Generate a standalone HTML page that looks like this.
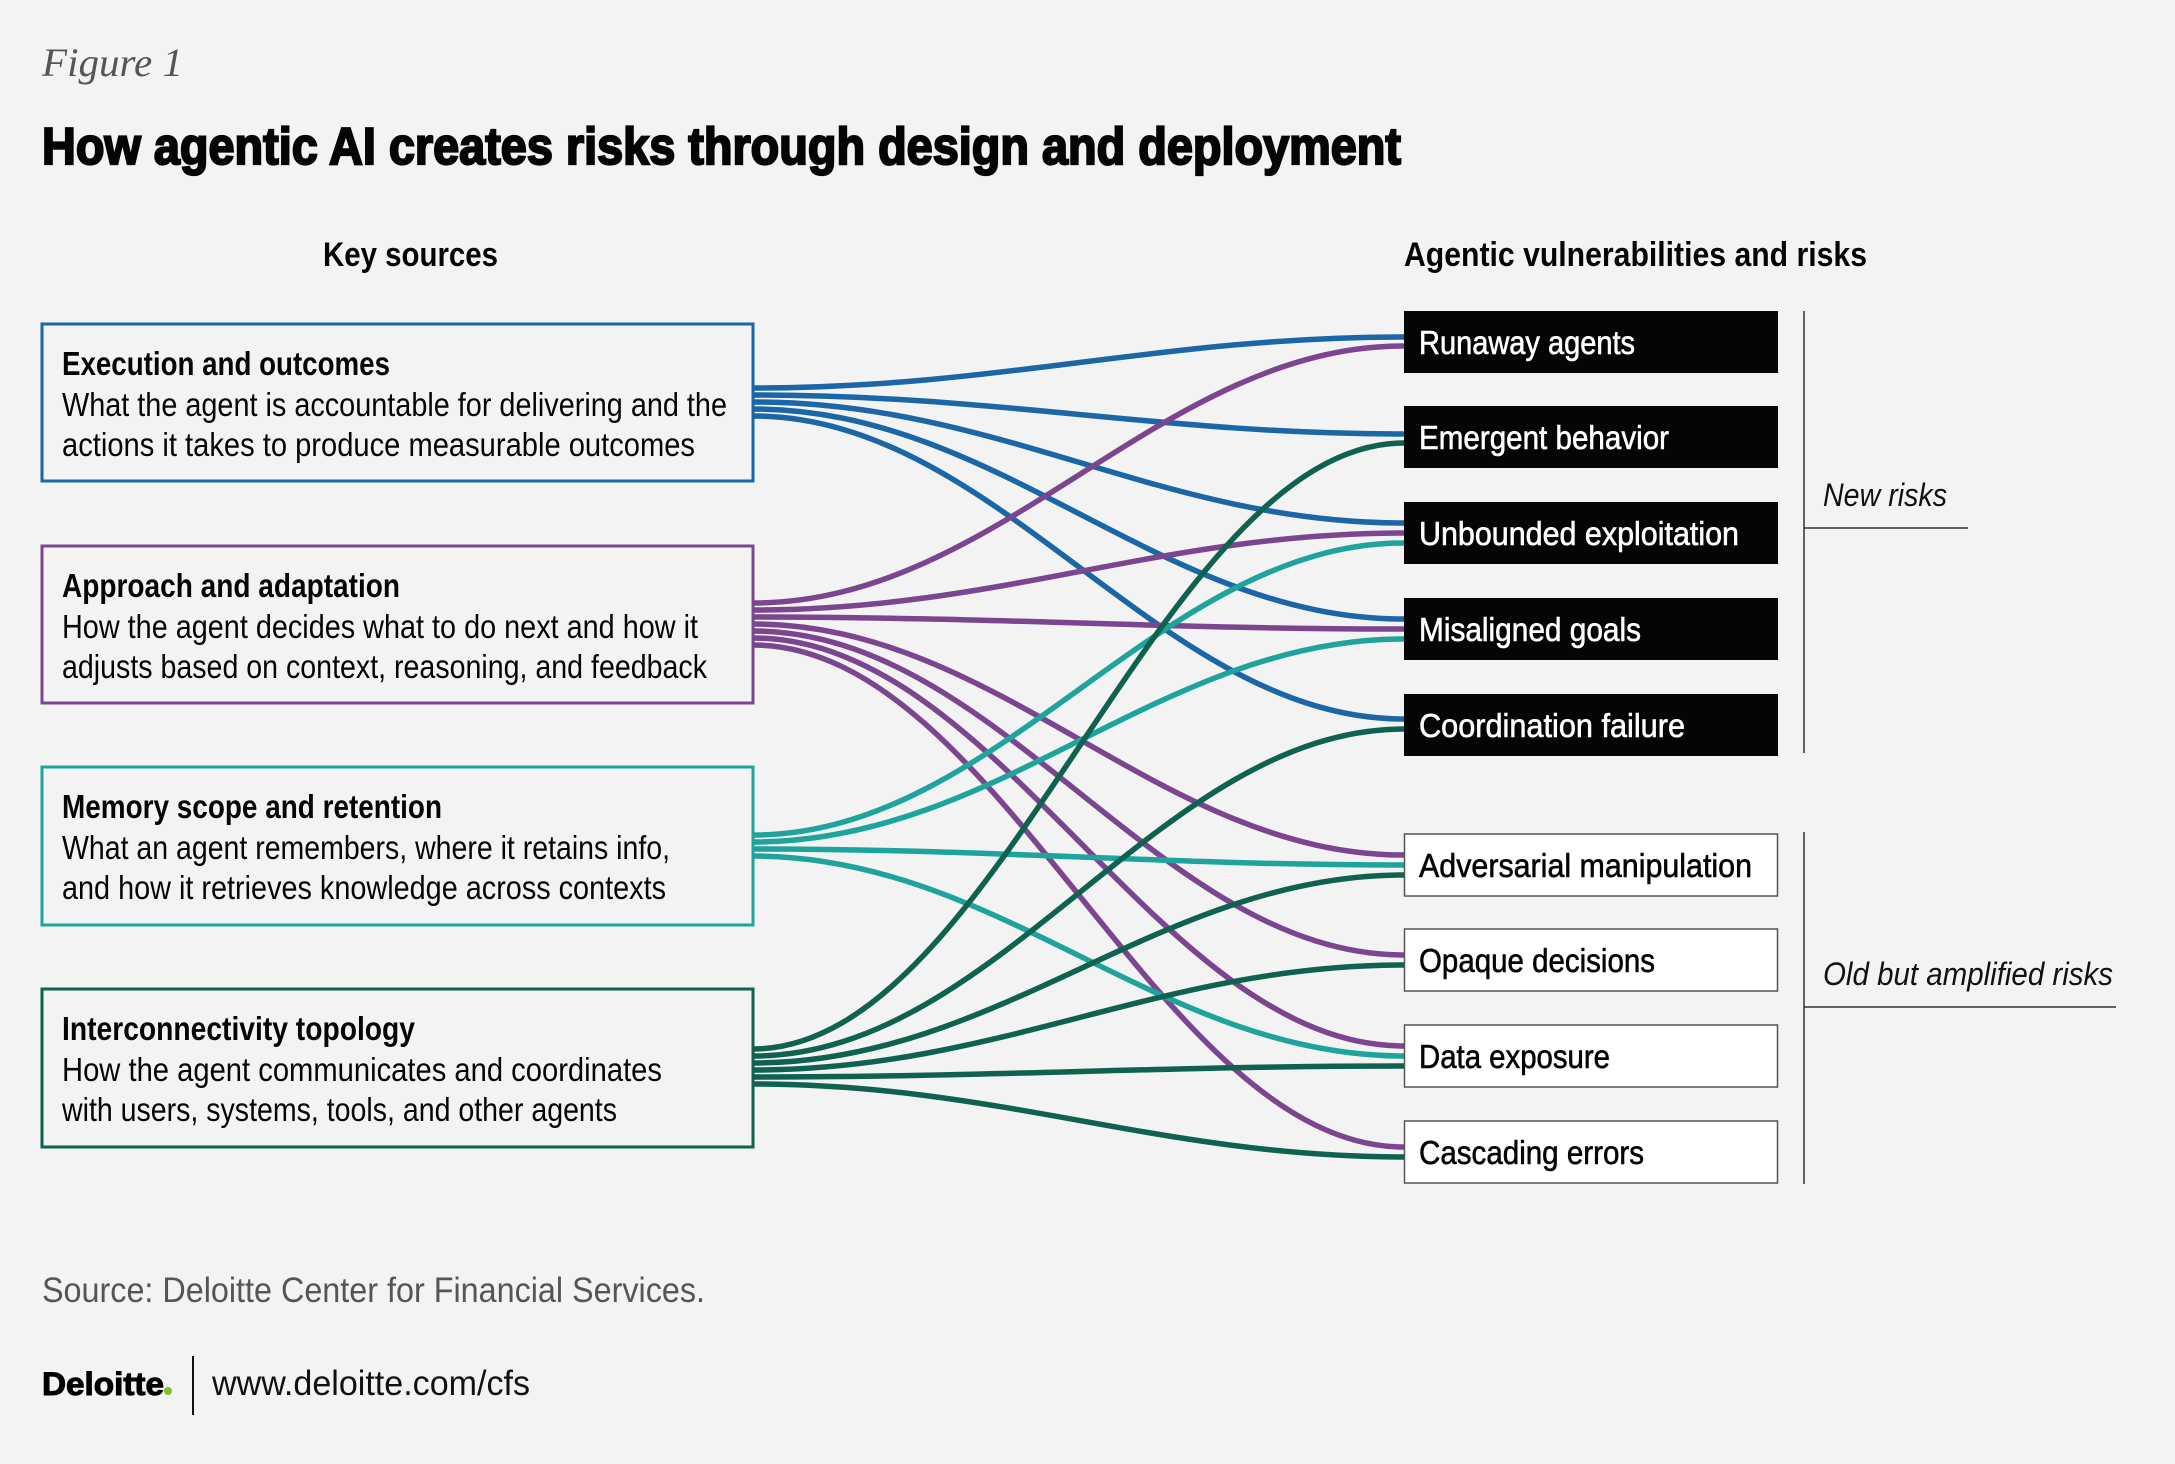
<!DOCTYPE html>
<html><head><meta charset="utf-8"><style>
html,body{margin:0;padding:0;background:#f3f3f3;}
svg{display:block;}
</style></head><body>
<svg width="2175" height="1464" viewBox="0 0 2175 1464" xmlns="http://www.w3.org/2000/svg" font-family="Liberation Sans, sans-serif">
<rect width="2175" height="1464" fill="#f3f3f3"/>
<text x="42" y="76" style="font-family:'Liberation Serif',serif;font-style:italic" font-size="40" fill="#555" textLength="141" lengthAdjust="spacingAndGlyphs">Figure 1</text>
<text x="42" y="164" font-size="52" font-weight="bold" fill="#050505" stroke="#050505" stroke-width="2.2" textLength="1359" lengthAdjust="spacingAndGlyphs">How agentic AI creates risks through design and deployment</text>
<text x="323" y="266" font-size="34" font-weight="bold" fill="#050505" textLength="175" lengthAdjust="spacingAndGlyphs">Key sources</text>
<text x="1404" y="266" font-size="34" font-weight="bold" fill="#050505" textLength="463" lengthAdjust="spacingAndGlyphs">Agentic vulnerabilities and risks</text>

<g fill="none" stroke-width="5.5">
<g stroke="#1a66a6">
<path d="M753 388 C1000 388,1160 337,1404 337"/>
<path d="M753 395 C1000 395,1160 434,1404 434"/>
<path d="M753 402 C1000 402,1160 523,1404 523"/>
<path d="M753 409 C1000 409,1160 619,1404 619"/>
<path d="M753 416 C1000 416,1160 719,1404 719"/>
</g>
<g stroke="#7c4590">
<path d="M753 603 C1000 603,1160 346,1404 346"/>
<path d="M753 610 C1000 610,1160 533,1404 533"/>
<path d="M753 617 C1000 617,1160 629,1404 629"/>
<path d="M753 624 C1000 624,1160 855,1404 855"/>
<path d="M753 631 C1000 631,1160 955,1404 955"/>
<path d="M753 638 C1000 638,1160 1046,1404 1046"/>
<path d="M753 645 C1000 645,1160 1147,1404 1147"/>
</g>
<g stroke="#1fa39d">
<path d="M753 835 C1000 835,1160 543,1404 543"/>
<path d="M753 842 C1000 842,1160 639,1404 639"/>
<path d="M753 849 C1000 849,1160 865,1404 865"/>
<path d="M753 856 C1000 856,1160 1056,1404 1056"/>
</g>
<g stroke="#0f6250">
<path d="M753 1049 C1000 1049,1160 443,1404 443"/>
<path d="M753 1056 C1000 1056,1160 729,1404 729"/>
<path d="M753 1063 C1000 1063,1160 875,1404 875"/>
<path d="M753 1070 C1000 1070,1160 965,1404 965"/>
<path d="M753 1077 C1000 1077,1160 1066,1404 1066"/>
<path d="M753 1084 C1000 1084,1160 1157,1404 1157"/>
</g>
</g>

<g stroke-width="3" fill="#f3f3f3">
<rect x="42" y="324" width="711" height="157" stroke="#1a66a6"/>
<rect x="42" y="546" width="711" height="157" stroke="#7c4590"/>
<rect x="42" y="767" width="711" height="158" stroke="#1fa39d"/>
<rect x="42" y="989" width="711" height="158" stroke="#0f6250"/>
</g>
<g fill="#050505" font-size="33">
<text x="62" y="375" font-weight="bold" textLength="328" lengthAdjust="spacingAndGlyphs">Execution and outcomes</text>
<text x="62" y="416" textLength="665" lengthAdjust="spacingAndGlyphs">What the agent is accountable for delivering and the</text>
<text x="62" y="456" textLength="633" lengthAdjust="spacingAndGlyphs">actions it takes to produce measurable outcomes</text>
<text x="62" y="597" font-weight="bold" textLength="338" lengthAdjust="spacingAndGlyphs">Approach and adaptation</text>
<text x="62" y="638" textLength="636" lengthAdjust="spacingAndGlyphs">How the agent decides what to do next and how it</text>
<text x="62" y="678" textLength="645" lengthAdjust="spacingAndGlyphs">adjusts based on context, reasoning, and feedback</text>
<text x="62" y="818" font-weight="bold" textLength="380" lengthAdjust="spacingAndGlyphs">Memory scope and retention</text>
<text x="62" y="859" textLength="608" lengthAdjust="spacingAndGlyphs">What an agent remembers, where it retains info,</text>
<text x="62" y="899" textLength="604" lengthAdjust="spacingAndGlyphs">and how it retrieves knowledge across contexts</text>
<text x="62" y="1040" font-weight="bold" textLength="353" lengthAdjust="spacingAndGlyphs">Interconnectivity topology</text>
<text x="62" y="1081" textLength="600" lengthAdjust="spacingAndGlyphs">How the agent communicates and coordinates</text>
<text x="62" y="1121" textLength="555" lengthAdjust="spacingAndGlyphs">with users, systems, tools, and other agents</text>
</g>

<g fill="#040606">
<rect x="1404" y="311" width="374" height="62"/>
<rect x="1404" y="406" width="374" height="62"/>
<rect x="1404" y="502" width="374" height="62"/>
<rect x="1404" y="598" width="374" height="62"/>
<rect x="1404" y="694" width="374" height="62"/>
</g>
<g fill="#fff" stroke="#555" stroke-width="1.5">
<rect x="1404.5" y="834" width="373" height="62"/>
<rect x="1404.5" y="929" width="373" height="62"/>
<rect x="1404.5" y="1025" width="373" height="62"/>
<rect x="1404.5" y="1121" width="373" height="62"/>
</g>
<g font-size="33" fill="#fff" stroke="#fff" stroke-width="0.6">
<text x="1419" y="354" textLength="216" lengthAdjust="spacingAndGlyphs">Runaway agents</text>
<text x="1419" y="449" textLength="250" lengthAdjust="spacingAndGlyphs">Emergent behavior</text>
<text x="1419" y="545" textLength="320" lengthAdjust="spacingAndGlyphs">Unbounded exploitation</text>
<text x="1419" y="641" textLength="222" lengthAdjust="spacingAndGlyphs">Misaligned goals</text>
<text x="1419" y="737" textLength="266" lengthAdjust="spacingAndGlyphs">Coordination failure</text>
</g>
<g font-size="33" fill="#050505" stroke="#050505" stroke-width="0.6">
<text x="1419" y="877" textLength="333" lengthAdjust="spacingAndGlyphs">Adversarial manipulation</text>
<text x="1419" y="972" textLength="236" lengthAdjust="spacingAndGlyphs">Opaque decisions</text>
<text x="1419" y="1068" textLength="191" lengthAdjust="spacingAndGlyphs">Data exposure</text>
<text x="1419" y="1164" textLength="225" lengthAdjust="spacingAndGlyphs">Cascading errors</text>
</g>

<g stroke="#333" stroke-width="1.5">
<line x1="1804" y1="311" x2="1804" y2="753"/>
<line x1="1804" y1="528" x2="1968" y2="528"/>
<line x1="1804" y1="832" x2="1804" y2="1184"/>
<line x1="1804" y1="1007" x2="2116" y2="1007"/>
</g>
<text x="1823" y="506" font-size="32" font-style="italic" fill="#111" textLength="124" lengthAdjust="spacingAndGlyphs">New risks</text>
<text x="1823" y="985" font-size="32" font-style="italic" fill="#111" textLength="290" lengthAdjust="spacingAndGlyphs">Old but amplified risks</text>

<text x="42" y="1302" font-size="35" fill="#555" textLength="663" lengthAdjust="spacingAndGlyphs">Source: Deloitte Center for Financial Services.</text>
<text x="42" y="1395" font-size="32" font-weight="bold" fill="#000" stroke="#000" stroke-width="1" textLength="122" lengthAdjust="spacingAndGlyphs">Deloitte</text>
<circle cx="168" cy="1391" r="4" fill="#86bc25"/>
<line x1="193" y1="1356" x2="193" y2="1415" stroke="#111" stroke-width="2"/>
<text x="212" y="1395" font-size="35" fill="#111" textLength="318" lengthAdjust="spacingAndGlyphs">www.deloitte.com/cfs</text>
</svg>
</body></html>
